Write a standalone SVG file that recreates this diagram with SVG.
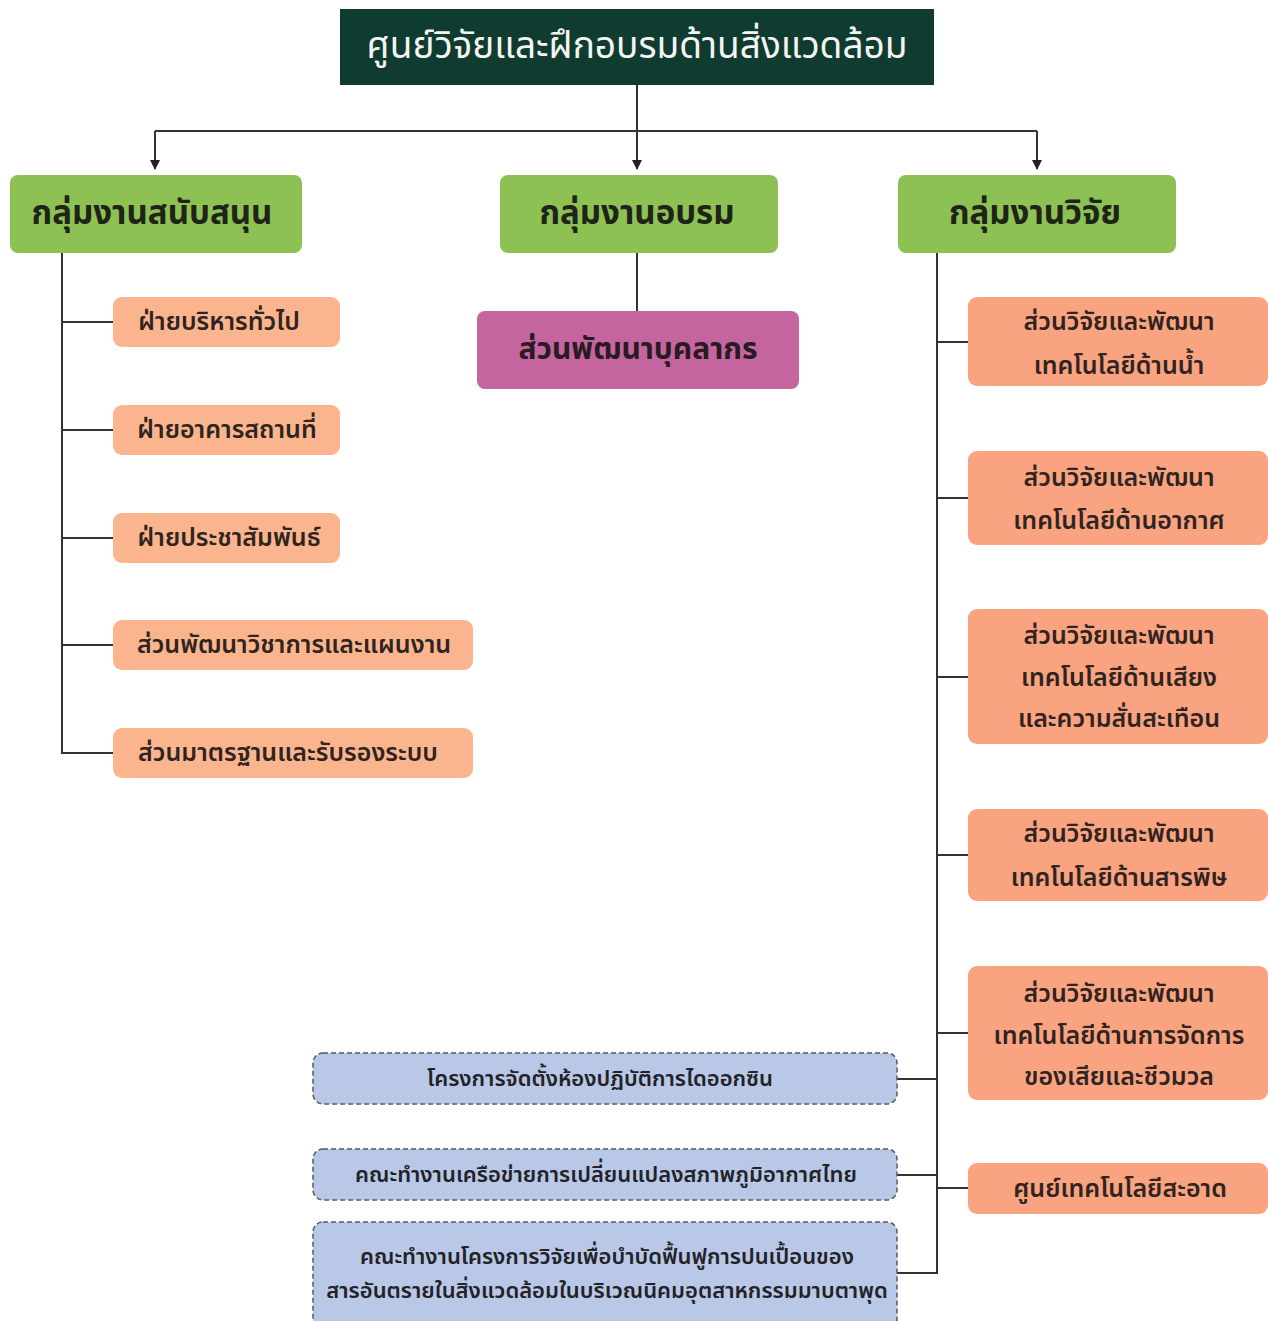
<svg xmlns="http://www.w3.org/2000/svg" width="1268" height="1321" viewBox="0 0 1268 1321">
<defs>
<style>
text{font-family:"Noto Sans Thai","Noto Sans","DejaVu Sans",sans-serif;text-anchor:middle;dominant-baseline:central;fill:#2a2420}
.top{fill:#0f3b31}
.topt{fill:#f4f4f0;font-size:37px}
.grn{fill:#8dc153}
.grnt{font-size:33px;font-weight:bold;fill:#1e2418}
.pur{fill:#c5659f}
.purt{font-size:30px;font-weight:bold;fill:#2a1a22}
.org{fill:#fbb58e}
.orgr{fill:#f9a381}
.ot{font-size:25px;font-weight:600;fill:#2f2420}
.blu{fill:#b9c8e6;stroke:#555a66;stroke-width:1.5;stroke-dasharray:5 3}
.bt{font-size:22px;font-weight:600;fill:#222228}
.ln{fill:none;stroke:#333;stroke-width:2}
</style>
<marker id="ah" viewBox="0 0 10 10" refX="9" refY="5" markerWidth="10" markerHeight="10" markerUnits="userSpaceOnUse" orient="auto"><path d="M0,0 L10,5 L0,10 z" fill="#222"/></marker>
</defs>
<rect width="1268" height="1321" fill="#ffffff"/>
<g id="connectors">
<path class="ln" d="M637,85 V169"/>
<path class="ln" d="M155,131 H1037"/>
<path class="ln" d="M155,131 V169" marker-end="url(#ah)"/>
<path class="ln" d="M637,131 V169" marker-end="url(#ah)"/>
<path class="ln" d="M1037,131 V169" marker-end="url(#ah)"/>
<path class="ln" d="M62,253 V753 H113"/>
<path class="ln" d="M62,322 H113 M62,430 H113 M62,538 H113 M62,645 H113"/>
<path class="ln" d="M637,253 V311"/>
<path class="ln" d="M937,253 V1273 H897"/>
<path class="ln" d="M937,342 H968 M937,498 H968 M937,677 H968 M937,855 H968 M937,1033 H968 M937,1188 H968"/>
<path class="ln" d="M897,1079 H937 M897,1175 H937"/>
</g>
<g id="n-top"><rect class="top" x="340" y="9" width="594" height="76"/><text class="topt" x="637" y="47">ศูนย์วิจัยและฝึกอบรมด้านสิ่งแวดล้อม</text></g>
<g id="n-support"><rect class="grn" x="10" y="175" width="292" height="78" rx="8"/><text class="grnt" x="152" y="214">กลุ่มงานสนับสนุน</text></g>
<g id="n-training"><rect class="grn" x="500" y="175" width="278" height="78" rx="8"/><text class="grnt" x="637" y="214">กลุ่มงานอบรม</text></g>
<g id="n-research"><rect class="grn" x="898" y="175" width="278" height="78" rx="8"/><text class="grnt" x="1035" y="214">กลุ่มงานวิจัย</text></g>
<g id="n-hr"><rect class="pur" x="477" y="311" width="322" height="78" rx="8"/><text class="purt" x="638" y="350">ส่วนพัฒนาบุคลากร</text></g>
<g id="n-admin"><rect class="org" x="113" y="297" width="227" height="50" rx="9"/><text class="ot" x="219" y="322">ฝ่ายบริหารทั่วไป</text></g>
<g id="n-building"><rect class="org" x="113" y="405" width="227" height="50" rx="9"/><text class="ot" x="227" y="430">ฝ่ายอาคารสถานที่</text></g>
<g id="n-pr"><rect class="org" x="113" y="513" width="227" height="50" rx="9"/><text class="ot" x="229" y="538">ฝ่ายประชาสัมพันธ์</text></g>
<g id="n-academic"><rect class="org" x="113" y="620" width="360" height="50" rx="9"/><text class="ot" x="294" y="645">ส่วนพัฒนาวิชาการและแผนงาน</text></g>
<g id="n-standard"><rect class="org" x="113" y="728" width="360" height="50" rx="9"/><text class="ot" x="288" y="753">ส่วนมาตรฐานและรับรองระบบ</text></g>
<g id="n-water"><rect class="orgr" x="968" y="297" width="300" height="89" rx="9"/><text class="ot" x="1119" y="322">ส่วนวิจัยและพัฒนา</text><text class="ot" x="1119" y="366">เทคโนโลยีด้านน้ำ</text></g>
<g id="n-air"><rect class="orgr" x="968" y="451" width="300" height="94" rx="9"/><text class="ot" x="1119" y="478">ส่วนวิจัยและพัฒนา</text><text class="ot" x="1119" y="521">เทคโนโลยีด้านอากาศ</text></g>
<g id="n-noise"><rect class="orgr" x="968" y="609" width="300" height="135" rx="9"/><text class="ot" x="1119" y="636">ส่วนวิจัยและพัฒนา</text><text class="ot" x="1119" y="678">เทคโนโลยีด้านเสียง</text><text class="ot" x="1119" y="719">และความสั่นสะเทือน</text></g>
<g id="n-toxic"><rect class="orgr" x="968" y="809" width="300" height="92" rx="9"/><text class="ot" x="1119" y="834">ส่วนวิจัยและพัฒนา</text><text class="ot" x="1119" y="878">เทคโนโลยีด้านสารพิษ</text></g>
<g id="n-waste"><rect class="orgr" x="968" y="966" width="300" height="134" rx="9"/><text class="ot" x="1119" y="994">ส่วนวิจัยและพัฒนา</text><text class="ot" x="1119" y="1036">เทคโนโลยีด้านการจัดการ</text><text class="ot" x="1119" y="1077">ของเสียและชีวมวล</text></g>
<g id="n-clean"><rect class="orgr" x="968" y="1163" width="300" height="51" rx="9"/><text class="ot" x="1120" y="1189">ศูนย์เทคโนโลยีสะอาด</text></g>
<g id="n-dioxin"><rect class="blu" x="313" y="1053" width="584" height="51" rx="10"/><text class="bt" x="600" y="1079">โครงการจัดตั้งห้องปฏิบัติการไดออกซิน</text></g>
<g id="n-climate"><rect class="blu" x="313" y="1149" width="584" height="51" rx="10"/><text class="bt" x="606" y="1175">คณะทำงานเครือข่ายการเปลี่ยนแปลงสภาพภูมิอากาศไทย</text></g>
<g id="n-maptaphut"><rect class="blu" x="313" y="1222" width="584" height="112" rx="10"/><text class="bt" x="607" y="1257">คณะทำงานโครงการวิจัยเพื่อบำบัดฟื้นฟูการปนเปื้อนของ</text><text class="bt" x="607" y="1291">สารอันตรายในสิ่งแวดล้อมในบริเวณนิคมอุตสาหกรรมมาบตาพุด</text></g>
</svg>
